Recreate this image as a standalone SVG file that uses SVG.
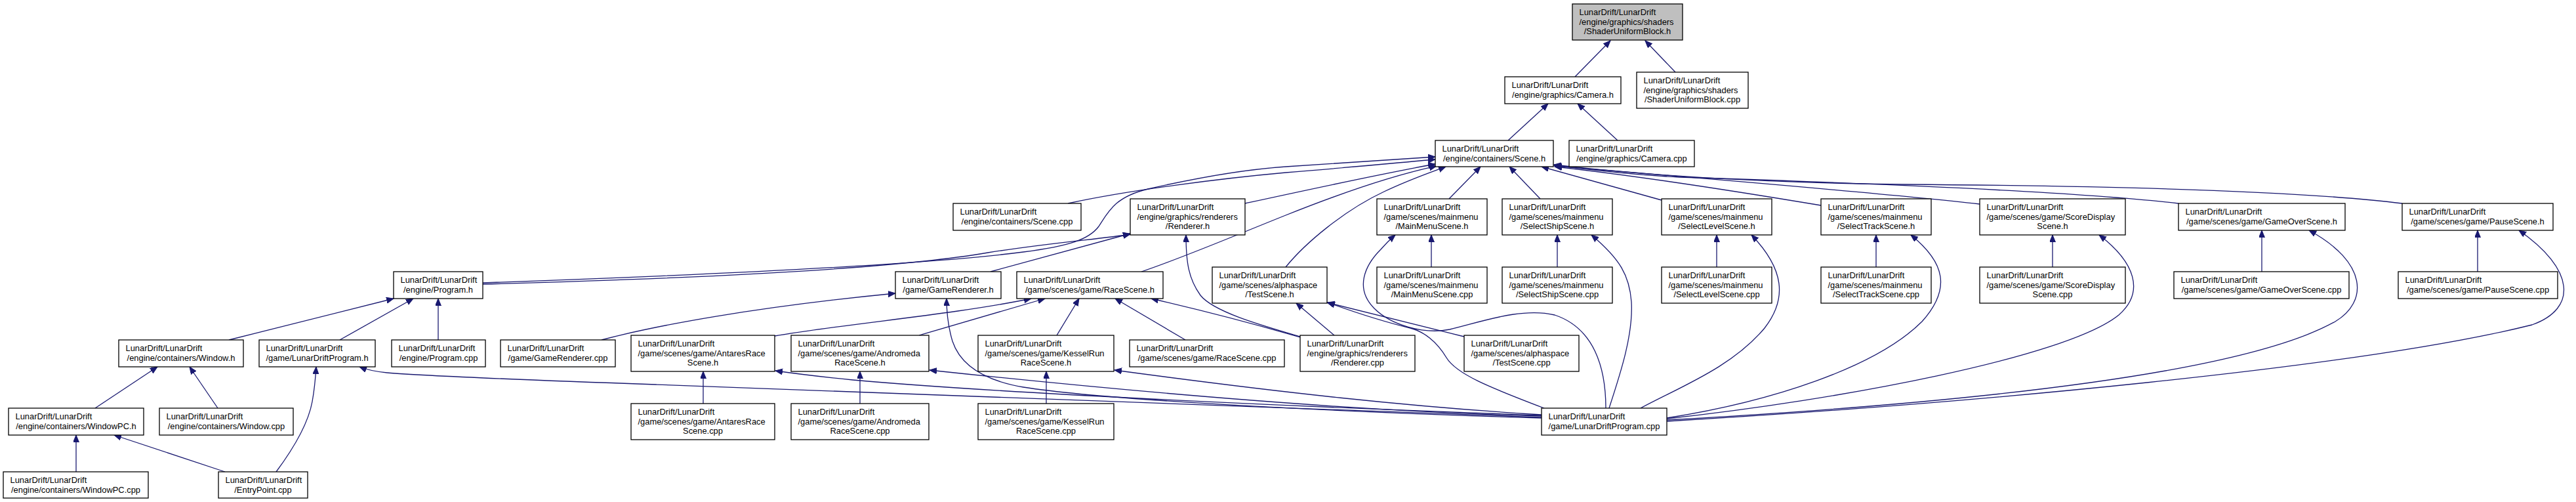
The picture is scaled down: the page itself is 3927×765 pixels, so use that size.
<svg xmlns="http://www.w3.org/2000/svg" width="3927" height="765" viewBox="0 0 3927 765">
<style>
.n rect{fill:#fff;stroke:#000;stroke-width:1.3}
.n.g rect{fill:#bfbfbf}
.n text{font-family:"Liberation Sans",Arial,Helvetica,sans-serif;font-size:12.9px;fill:#000}
.n .c{text-anchor:middle}
.e path{fill:none;stroke:#191970;stroke-width:1.3;marker-end:url(#ah)}
</style>
<defs>
<marker id="ah" markerUnits="userSpaceOnUse" markerWidth="12" markerHeight="10" refX="11" refY="4.5" orient="auto"><path d="M0,0 L11,4.5 L0,9 z" fill="#191970" stroke="#191970" stroke-width="1"/></marker>
</defs>
<rect width="3927" height="765" fill="#fff"/>
<g id="edges" class="e">
<path d="M2401,117 L2455,62"/>
<path d="M2554,110 L2508,62"/>
<path d="M2299,214 L2360,158"/>
<path d="M2466,214 L2405,158"/>
<path d="M1628,310 C1720,290 1860,272 1960,263 C2060,255 2130,248 2188,243"/>
<path d="M736,431 C1050,420 1400,405 1560,384 C1630,375 1660,365 1675,345 C1690,322 1700,300 1750,288 C1820,272 1900,258 1960,254 C2060,248 2130,243 2188,239"/>
<path d="M736,433 C1000,426 1350,412 1506,385 C1600,370 1680,364 1723,357"/>
<path d="M1510,414 L1723,356"/>
<path d="M1898,310 C1990,290 2100,266 2188,250"/>
<path d="M1740,414 C1800,394 1880,360 1960,328 C2040,296 2120,268 2190,253"/>
<path d="M1960,407 C1990,370 2050,320 2110,292 C2150,273 2180,263 2204,254"/>
<path d="M2209,303 L2257,254"/>
<path d="M2348,303 L2301,254"/>
<path d="M2533,305 L2350,254"/>
<path d="M2776,313 C2650,292 2480,266 2370,254"/>
<path d="M3018,311 C2850,292 2550,268 2370,253"/>
<path d="M3321,310 C3150,290 2750,276 2560,270 C2480,266 2420,258 2369,252"/>
<path d="M3662,310 C3500,290 3200,283 2900,281 C2650,278 2480,264 2369,251"/>
<path d="M349,518 L600,455"/>
<path d="M518,518 L630,455"/>
<path d="M668,518 L668,455"/>
<path d="M145,622 L240,559"/>
<path d="M332,622 L289,559"/>
<path d="M116,719 L116,663"/>
<path d="M343,719 L174,663"/>
<path d="M421,719 C450,680 470,645 476,612 C480,590 481,575 482,559"/>
<path d="M2350,636 C2000,626 1500,604 1000,586 C800,579 650,573 590,568 C570,566 558,563 548,559"/>
<path d="M2350,633 C1900,617 1500,597 1300,579 C1250,574 1210,569 1182,565"/>
<path d="M2350,634 C2100,628 1800,605 1417,564"/>
<path d="M2350,632 C2150,620 1950,598 1699,564"/>
<path d="M2350,637 C2100,630 1700,612 1560,590 C1490,578 1462,550 1452,520 C1446,500 1443,480 1443,455"/>
<path d="M1181,512 C1300,492 1450,480 1572,455"/>
<path d="M1401,511 L1593,455"/>
<path d="M1611,511 L1645,455"/>
<path d="M1807,518 L1700,455"/>
<path d="M1072,615 L1072,566"/>
<path d="M1311,615 L1311,566"/>
<path d="M1595,615 L1595,566"/>
<path d="M917,518 C1000,496 1150,468 1365,447"/>
<path d="M1982,513 C1920,495 1850,475 1830,450 C1812,425 1808,400 1808,358"/>
<path d="M1982,514 C1900,490 1820,470 1755,455"/>
<path d="M2034,511 L1976,462"/>
<path d="M2232,513 L2023,461"/>
<path d="M2354,622 C2270,590 2220,570 2205,545 C2190,520 2170,505 2150,500 C2100,488 2060,474 2024,461"/>
<path d="M2182,407 L2182,358"/>
<path d="M2448,622 C2448,560 2430,500 2370,480 C2320,468 2260,490 2210,502 C2170,510 2120,495 2095,470 C2065,440 2080,405 2105,380 C2112,372 2120,364 2127,358"/>
<path d="M2374,407 L2374,358"/>
<path d="M2453,622 C2470,570 2490,510 2487,460 C2484,420 2470,395 2426,358"/>
<path d="M2617,407 L2617,358"/>
<path d="M2501,622 C2560,590 2640,560 2690,500 C2725,455 2720,410 2670,358"/>
<path d="M2860,407 L2860,358"/>
<path d="M2541,637 C2700,612 2860,560 2930,490 C2975,440 2965,400 2913,358"/>
<path d="M3129,407 L3129,358"/>
<path d="M2541,638 C2800,610 3150,545 3230,480 C3270,445 3255,400 3200,358"/>
<path d="M3448,414 L3448,351"/>
<path d="M2541,640 C2900,620 3400,580 3560,490 C3610,460 3610,400 3520,351"/>
<path d="M3777,414 L3777,351"/>
<path d="M2541,642 C3000,615 3600,560 3860,495 C3930,470 3925,410 3840,351"/>
</g>

<g id="n_sub_h" class="n g"><rect x="2397" y="6" width="168" height="55"/><text x="2407.5" y="22.8">LunarDrift/LunarDrift</text><text x="2407.5" y="37.5">/engine/graphics/shaders</text><text class="c" x="2481" y="52.2">/ShaderUniformBlock.h</text></g>
<g id="n_camera_h" class="n"><rect x="2294" y="117" width="177" height="41"/><text x="2304.5" y="134.2">LunarDrift/LunarDrift</text><text class="c" x="2382.5" y="148.9">/engine/graphics/Camera.h</text></g>
<g id="n_sub_cpp" class="n"><rect x="2495" y="110" width="170" height="55"/><text x="2505.5" y="126.8">LunarDrift/LunarDrift</text><text x="2505.5" y="141.5">/engine/graphics/shaders</text><text class="c" x="2580" y="156.2">/ShaderUniformBlock.cpp</text></g>
<g id="n_scene_h" class="n"><rect x="2188" y="214" width="180" height="40"/><text x="2198.5" y="230.9">LunarDrift/LunarDrift</text><text class="c" x="2278" y="245.6">/engine/containers/Scene.h</text></g>
<g id="n_camera_cpp" class="n"><rect x="2392" y="214" width="191" height="40"/><text x="2402.5" y="230.9">LunarDrift/LunarDrift</text><text class="c" x="2487.5" y="245.6">/engine/graphics/Camera.cpp</text></g>

<g id="n_scene_cpp" class="n"><rect x="1453" y="310" width="195" height="41"/><text x="1463.5" y="327.2">LunarDrift/LunarDrift</text><text class="c" x="1550.5" y="341.9">/engine/containers/Scene.cpp</text></g>
<g id="n_renderer_h" class="n"><rect x="1723" y="303" width="175" height="55"/><text x="1733.5" y="319.8">LunarDrift/LunarDrift</text><text x="1733.5" y="334.5">/engine/graphics/renderers</text><text class="c" x="1810.5" y="349.2">/Renderer.h</text></g>
<g id="n_mainmenu_h" class="n"><rect x="2099" y="303" width="168" height="55"/><text x="2109.5" y="319.8">LunarDrift/LunarDrift</text><text x="2109.5" y="334.5">/game/scenes/mainmenu</text><text class="c" x="2183" y="349.2">/MainMenuScene.h</text></g>
<g id="n_selectship_h" class="n"><rect x="2290" y="303" width="168" height="55"/><text x="2300.5" y="319.8">LunarDrift/LunarDrift</text><text x="2300.5" y="334.5">/game/scenes/mainmenu</text><text class="c" x="2374" y="349.2">/SelectShipScene.h</text></g>
<g id="n_selectlevel_h" class="n"><rect x="2533" y="303" width="168" height="55"/><text x="2543.5" y="319.8">LunarDrift/LunarDrift</text><text x="2543.5" y="334.5">/game/scenes/mainmenu</text><text class="c" x="2617" y="349.2">/SelectLevelScene.h</text></g>
<g id="n_selecttrack_h" class="n"><rect x="2776" y="303" width="168" height="55"/><text x="2786.5" y="319.8">LunarDrift/LunarDrift</text><text x="2786.5" y="334.5">/game/scenes/mainmenu</text><text class="c" x="2860" y="349.2">/SelectTrackScene.h</text></g>
<g id="n_scoredisplay_h" class="n"><rect x="3018" y="303" width="222" height="55"/><text x="3028.5" y="319.8">LunarDrift/LunarDrift</text><text x="3028.5" y="334.5">/game/scenes/game/ScoreDisplay</text><text class="c" x="3129" y="349.2">Scene.h</text></g>
<g id="n_gameover_h" class="n"><rect x="3321" y="310" width="254" height="41"/><text x="3331.5" y="327.2">LunarDrift/LunarDrift</text><text class="c" x="3448" y="341.9">/game/scenes/game/GameOverScene.h</text></g>
<g id="n_pause_h" class="n"><rect x="3662" y="310" width="230" height="41"/><text x="3672.5" y="327.2">LunarDrift/LunarDrift</text><text class="c" x="3777" y="341.9">/game/scenes/game/PauseScene.h</text></g>

<g id="n_program_h" class="n"><rect x="600" y="414" width="136" height="41"/><text x="610.5" y="431.2">LunarDrift/LunarDrift</text><text class="c" x="668" y="445.9">/engine/Program.h</text></g>
<g id="n_gamerenderer_h" class="n"><rect x="1365" y="414" width="161" height="41"/><text x="1375.5" y="431.2">LunarDrift/LunarDrift</text><text class="c" x="1445.5" y="445.9">/game/GameRenderer.h</text></g>
<g id="n_racescene_h" class="n"><rect x="1550" y="414" width="223" height="41"/><text x="1560.5" y="431.2">LunarDrift/LunarDrift</text><text class="c" x="1661.5" y="445.9">/game/scenes/game/RaceScene.h</text></g>
<g id="n_testscene_h" class="n"><rect x="1848" y="407" width="175" height="55"/><text x="1858.5" y="423.8">LunarDrift/LunarDrift</text><text x="1858.5" y="438.5">/game/scenes/alphaspace</text><text class="c" x="1935.5" y="453.2">/TestScene.h</text></g>
<g id="n_mainmenu_cpp" class="n"><rect x="2099" y="407" width="168" height="55"/><text x="2109.5" y="423.8">LunarDrift/LunarDrift</text><text x="2109.5" y="438.5">/game/scenes/mainmenu</text><text class="c" x="2183" y="453.2">/MainMenuScene.cpp</text></g>
<g id="n_selectship_cpp" class="n"><rect x="2290" y="407" width="168" height="55"/><text x="2300.5" y="423.8">LunarDrift/LunarDrift</text><text x="2300.5" y="438.5">/game/scenes/mainmenu</text><text class="c" x="2374" y="453.2">/SelectShipScene.cpp</text></g>
<g id="n_selectlevel_cpp" class="n"><rect x="2533" y="407" width="168" height="55"/><text x="2543.5" y="423.8">LunarDrift/LunarDrift</text><text x="2543.5" y="438.5">/game/scenes/mainmenu</text><text class="c" x="2617" y="453.2">/SelectLevelScene.cpp</text></g>
<g id="n_selecttrack_cpp" class="n"><rect x="2776" y="407" width="168" height="55"/><text x="2786.5" y="423.8">LunarDrift/LunarDrift</text><text x="2786.5" y="438.5">/game/scenes/mainmenu</text><text class="c" x="2860" y="453.2">/SelectTrackScene.cpp</text></g>
<g id="n_scoredisplay_cpp" class="n"><rect x="3018" y="407" width="222" height="55"/><text x="3028.5" y="423.8">LunarDrift/LunarDrift</text><text x="3028.5" y="438.5">/game/scenes/game/ScoreDisplay</text><text class="c" x="3129" y="453.2">Scene.cpp</text></g>
<g id="n_gameover_cpp" class="n"><rect x="3314" y="414" width="267" height="41"/><text x="3324.5" y="431.2">LunarDrift/LunarDrift</text><text class="c" x="3447.5" y="445.9">/game/scenes/game/GameOverScene.cpp</text></g>
<g id="n_pause_cpp" class="n"><rect x="3656" y="414" width="243" height="41"/><text x="3666.5" y="431.2">LunarDrift/LunarDrift</text><text class="c" x="3777.5" y="445.9">/game/scenes/game/PauseScene.cpp</text></g>

<g id="n_window_h" class="n"><rect x="181" y="518" width="190" height="41"/><text x="191.5" y="535.2">LunarDrift/LunarDrift</text><text class="c" x="276" y="549.9">/engine/containers/Window.h</text></g>
<g id="n_ldp_h" class="n"><rect x="395" y="518" width="177" height="41"/><text x="405.5" y="535.2">LunarDrift/LunarDrift</text><text class="c" x="483.5" y="549.9">/game/LunarDriftProgram.h</text></g>
<g id="n_program_cpp" class="n"><rect x="597" y="518" width="143" height="41"/><text x="607.5" y="535.2">LunarDrift/LunarDrift</text><text class="c" x="668.5" y="549.9">/engine/Program.cpp</text></g>
<g id="n_gamerenderer_cpp" class="n"><rect x="763" y="518" width="175" height="41"/><text x="773.5" y="535.2">LunarDrift/LunarDrift</text><text class="c" x="850.5" y="549.9">/game/GameRenderer.cpp</text></g>
<g id="n_antares_h" class="n"><rect x="962" y="511" width="219" height="55"/><text x="972.5" y="527.8">LunarDrift/LunarDrift</text><text x="972.5" y="542.5">/game/scenes/game/AntaresRace</text><text class="c" x="1071.5" y="557.2">Scene.h</text></g>
<g id="n_andromeda_h" class="n"><rect x="1206" y="511" width="210" height="55"/><text x="1216.5" y="527.8">LunarDrift/LunarDrift</text><text x="1216.5" y="542.5">/game/scenes/game/Andromeda</text><text class="c" x="1311" y="557.2">RaceScene.h</text></g>
<g id="n_kessel_h" class="n"><rect x="1491" y="511" width="207" height="55"/><text x="1501.5" y="527.8">LunarDrift/LunarDrift</text><text x="1501.5" y="542.5">/game/scenes/game/KesselRun</text><text class="c" x="1594.5" y="557.2">RaceScene.h</text></g>
<g id="n_racescene_cpp" class="n"><rect x="1722" y="518" width="236" height="41"/><text x="1732.5" y="535.2">LunarDrift/LunarDrift</text><text class="c" x="1840" y="549.9">/game/scenes/game/RaceScene.cpp</text></g>
<g id="n_renderer_cpp" class="n"><rect x="1982" y="511" width="175" height="55"/><text x="1992.5" y="527.8">LunarDrift/LunarDrift</text><text x="1992.5" y="542.5">/engine/graphics/renderers</text><text class="c" x="2069.5" y="557.2">/Renderer.cpp</text></g>
<g id="n_testscene_cpp" class="n"><rect x="2232" y="511" width="175" height="55"/><text x="2242.5" y="527.8">LunarDrift/LunarDrift</text><text x="2242.5" y="542.5">/game/scenes/alphaspace</text><text class="c" x="2319.5" y="557.2">/TestScene.cpp</text></g>

<g id="n_windowpc_h" class="n"><rect x="13" y="622" width="206" height="41"/><text x="23.5" y="639.2">LunarDrift/LunarDrift</text><text class="c" x="116" y="653.9">/engine/containers/WindowPC.h</text></g>
<g id="n_window_cpp" class="n"><rect x="243" y="622" width="204" height="41"/><text x="253.5" y="639.2">LunarDrift/LunarDrift</text><text class="c" x="345" y="653.9">/engine/containers/Window.cpp</text></g>
<g id="n_antares_cpp" class="n"><rect x="962" y="615" width="219" height="55"/><text x="972.5" y="631.8">LunarDrift/LunarDrift</text><text x="972.5" y="646.5">/game/scenes/game/AntaresRace</text><text class="c" x="1071.5" y="661.2">Scene.cpp</text></g>
<g id="n_andromeda_cpp" class="n"><rect x="1206" y="615" width="210" height="55"/><text x="1216.5" y="631.8">LunarDrift/LunarDrift</text><text x="1216.5" y="646.5">/game/scenes/game/Andromeda</text><text class="c" x="1311" y="661.2">RaceScene.cpp</text></g>
<g id="n_kessel_cpp" class="n"><rect x="1491" y="615" width="207" height="55"/><text x="1501.5" y="631.8">LunarDrift/LunarDrift</text><text x="1501.5" y="646.5">/game/scenes/game/KesselRun</text><text class="c" x="1594.5" y="661.2">RaceScene.cpp</text></g>
<g id="n_ldp_cpp" class="n"><rect x="2350" y="622" width="191" height="41"/><text x="2360.5" y="639.2">LunarDrift/LunarDrift</text><text class="c" x="2445.5" y="653.9">/game/LunarDriftProgram.cpp</text></g>

<g id="n_windowpc_cpp" class="n"><rect x="5" y="719" width="221" height="40"/><text x="15.5" y="736.2">LunarDrift/LunarDrift</text><text class="c" x="115.5" y="750.9">/engine/containers/WindowPC.cpp</text></g>
<g id="n_entrypoint_cpp" class="n"><rect x="333" y="719" width="136" height="40"/><text x="343.5" y="736.2">LunarDrift/LunarDrift</text><text class="c" x="401" y="750.9">/EntryPoint.cpp</text></g>
</svg>
